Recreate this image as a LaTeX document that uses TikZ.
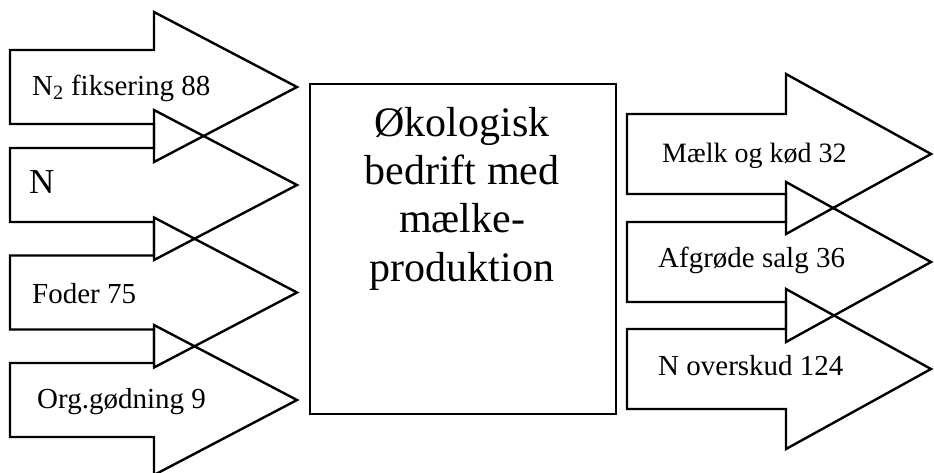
\documentclass[tikz,border=0pt]{standalone}
\usepackage{fontspec}
\setmainfont{Liberation Serif}
\newcommand{\inarrow}[1]{\draw[arr] (10,#1-37) -- (154,#1-37) -- (154,#1-75) -- (297,#1) -- (154,#1+75) -- (154,#1+37) -- (10,#1+37) -- cycle;}
\newcommand{\outarrow}[1]{\draw[arr] (627,#1-40) -- (786,#1-40) -- (786,#1-80) -- (931,#1) -- (786,#1+80) -- (786,#1+40) -- (627,#1+40) -- cycle;}
\begin{document}
\begin{tikzpicture}[x=1pt,y=-1pt,
  arr/.style={draw=black, line width=2.4pt, line join=miter},
  lbl/.style={anchor=base west, inner sep=0pt, font=\fontsize{29}{33}\selectfont},
  boxstyle/.style={draw=black, line width=2.4pt, inner sep=0pt, anchor=north west, minimum width=306pt, minimum height=330pt}]
\useasboundingbox (0,0) rectangle (934,472);
% input arrows
\inarrow{87}
\inarrow{185}
\inarrow{292.5}
\inarrow{400}
% output arrows
\outarrow{154}
\outarrow{262}
\outarrow{369}
% central box
\node[boxstyle] (farm) at (309,83) {};
\node[anchor=north, inner sep=0pt, align=center, font=\fontsize{42}{48.3}\selectfont] (farmtext) at (462,107) {Økologisk\\bedrift med\\mælke-\\produktion};
% labels
\node[lbl] (n2) at (32,95) {N\textsubscript{2} fiksering 88};
\node[lbl, font=\fontsize{35}{40}\selectfont] (n) at (29,193) {N};
\node[lbl] (foder) at (32,303) {Foder 75};
\node[lbl] (org) at (37,408) {Org.gødning 9};
\node[lbl, font=\fontsize{28}{32}\selectfont] (maelk) at (662,162) {Mælk og kød 32};
\node[lbl] (afgrode) at (658,267) {Afgrøde salg 36};
\node[lbl] (overskud) at (658,375) {N overskud 124};
\end{tikzpicture}
\end{document}
